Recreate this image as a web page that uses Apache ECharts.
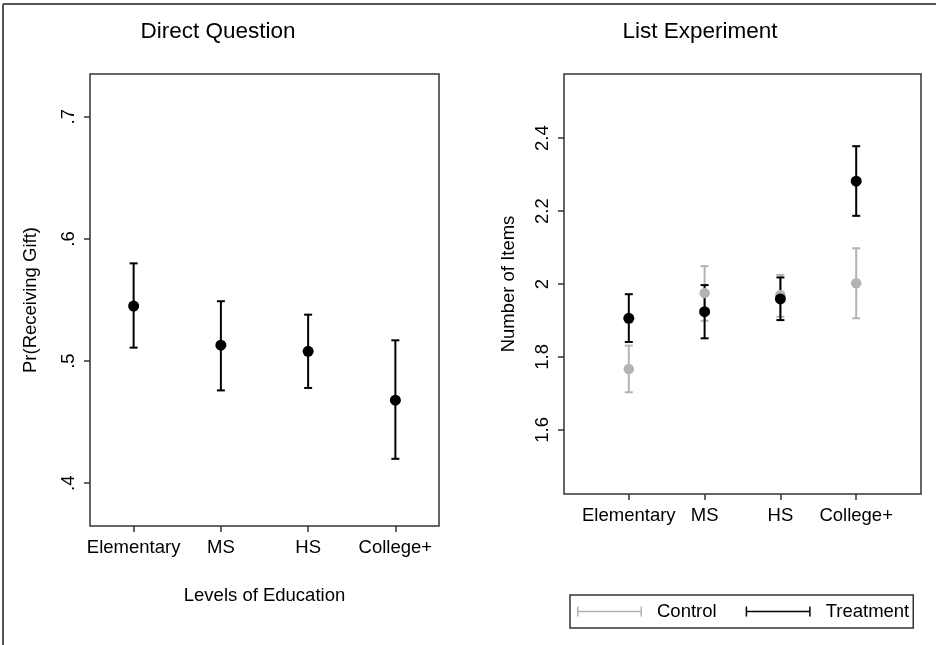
<!DOCTYPE html>
<html>
<head>
<meta charset="utf-8">
<script src="https://cdn.jsdelivr.net/npm/echarts@6/dist/echarts.min.js"></script>
<style>
html,body{margin:0;padding:0;background:#fff;}
#chart{width:936px;height:645px;}
</style>
</head>
<body>
<div id="chart"></div>
<script>
// ---- data ----
const categories = ['Elementary', 'MS', 'HS', 'College+'];

// Direct Question: Pr(Receiving Gift)
const directEst = [0.545, 0.513, 0.508, 0.468];
const directLo  = [0.511, 0.476, 0.478, 0.420];
const directHi  = [0.580, 0.549, 0.538, 0.517];

// List Experiment: Number of Items
const controlEst = [1.767, 1.975, 1.970, 2.002];
const controlLo  = [1.703, 1.899, 1.910, 1.906];
const controlHi  = [1.831, 2.049, 2.025, 2.098];
const treatEst   = [1.906, 1.924, 1.959, 2.282];
const treatLo    = [1.841, 1.851, 1.901, 2.187];
const treatHi    = [1.972, 1.997, 2.018, 2.378];

// tick labels
const leftYTickValues = [0.4, 0.5, 0.6, 0.7];
const leftYTickLabels = ['.4', '.5', '.6', '.7'];
const rightYTickValues = [1.6, 1.8, 2.0, 2.2, 2.4];
const rightYTickLabels = ['1.6', '1.8', '2', '2.2', '2.4'];
const catPositions = [1, 2, 3, 4];

// ---- build ----
const FONT = '"Liberation Sans", Arial, Helvetica, sans-serif';
const BLACK = '#000000';
const GREY = '#b3b3b3';

function barData(lo, hi) { return lo.map((v, i) => [catPositions[i], v, hi[i]]); }
function ptData(est) { return est.map((v, i) => [catPositions[i], v]); }

function errorBarRender(params, api) {
  const lo = api.coord([api.value(0), api.value(1)]);
  const hi = api.coord([api.value(0), api.value(2)]);
  const half = 4;
  const style = { stroke: api.visual('color'), lineWidth: 2 };
  return {
    type: 'group',
    children: [
      { type: 'line', shape: { x1: lo[0], y1: lo[1], x2: hi[0], y2: hi[1] }, style: style },
      { type: 'line', shape: { x1: lo[0] - half, y1: lo[1], x2: lo[0] + half, y2: lo[1] }, style: style },
      { type: 'line', shape: { x1: hi[0] - half, y1: hi[1], x2: hi[0] + half, y2: hi[1] }, style: style }
    ]
  };
}

function labelFor(values, labels) {
  return function (v) {
    for (let i = 0; i < values.length; i++) if (Math.abs(values[i] - v) < 1e-6) return labels[i];
    return '';
  };
}
function catLabel(v) { const i = catPositions.indexOf(Math.round(v)); return i >= 0 ? categories[i] : ''; }

const axisText = { color: BLACK, fontFamily: FONT, fontSize: 18.5 };

function xAxisCfg(gridIndex, min, max, name) {
  return {
    type: 'value', gridIndex: gridIndex, min: min, max: max,
    splitLine: { show: false },
    axisLine: { show: false },
    axisTick: { show: true, customValues: catPositions, length: 6, lineStyle: { color: '#333', width: 1.5 } },
    axisLabel: Object.assign({ customValues: catPositions, formatter: catLabel, margin: 12 }, axisText),
    name: name, nameLocation: 'middle', nameGap: 60, nameMoveOverlap: false,
    nameTextStyle: { color: BLACK, fontFamily: FONT, fontSize: 18.5 }
  };
}
function yAxisCfg(gridIndex, min, max, vals, labs, name, gap) {
  return {
    type: 'value', gridIndex: gridIndex, min: min, max: max,
    splitLine: { show: false },
    axisLine: { show: false },
    axisTick: { show: true, customValues: vals, length: 6, lineStyle: { color: '#333', width: 1.5 } },
    axisLabel: Object.assign({ customValues: vals, formatter: labelFor(vals, labs), rotate: 90, margin: 12 }, axisText),
    name: name, nameLocation: 'middle', nameGap: gap, nameRotate: 90, nameMoveOverlap: false,
    nameTextStyle: { color: BLACK, fontFamily: FONT, fontSize: 18.5 }
  };
}

const legendIcon = 'path://M0,4.25H65V5.75H0Z M0,0H1.5V10H0Z M63.5,0H65V10H63.5Z';

const option = {
  backgroundColor: '#ffffff',
  animation: false,
  grid: [
    { left: 90, top: 74, width: 349, height: 452, show: true, borderColor: '#333', borderWidth: 1.5, backgroundColor: 'transparent', outerBoundsMode: 'none', containLabel: false },
    { left: 564, top: 74, width: 357, height: 420, show: true, borderColor: '#333', borderWidth: 1.5, backgroundColor: 'transparent', outerBoundsMode: 'none', containLabel: false }
  ],
  xAxis: [
    xAxisCfg(0, 0.5, 4.5, 'Levels of Education'),
    xAxisCfg(1, 0.145, 4.855, '')
  ],
  yAxis: [
    yAxisCfg(0, 0.365, 0.735, leftYTickValues, leftYTickLabels, 'Pr(Receiving Gift)', 50),
    yAxisCfg(1, 1.424, 2.576, rightYTickValues, rightYTickLabels, 'Number of Items', 46)
  ],
  legend: {
    show: true,
    left: 570, top: 595,
    orient: 'horizontal',
    padding: [7, 4, 7, 7],
    itemGap: 29,
    itemWidth: 65, itemHeight: 10,
    borderColor: '#333', borderWidth: 1.5, borderRadius: 0,
    backgroundColor: '#fff',
    textStyle: { color: BLACK, fontFamily: FONT, fontSize: 18.5, padding: [0, 0, 0, 10] },
    data: [
      { name: 'Control', icon: legendIcon, itemStyle: { color: GREY, borderWidth: 0 } },
      { name: 'Treatment', icon: legendIcon, itemStyle: { color: BLACK, borderWidth: 0 } }
    ],
    selectedMode: false
  },
  graphic: [
    { type: 'line', shape: { x1: 3, y1: 4, x2: 936, y2: 4 }, style: { stroke: '#555', lineWidth: 2 }, silent: true },
    { type: 'line', shape: { x1: 3, y1: 4, x2: 3, y2: 645 }, style: { stroke: '#555', lineWidth: 2 }, silent: true },
    { type: 'text', x: 218, y: 31.5, style: { text: 'Direct Question', fill: BLACK, font: '22.5px ' + FONT, textAlign: 'center', textVerticalAlign: 'middle' }, silent: true },
    { type: 'text', x: 700, y: 31.5, style: { text: 'List Experiment', fill: BLACK, font: '22.5px ' + FONT, textAlign: 'center', textVerticalAlign: 'middle' }, silent: true }
  ],
  series: [
    {
      name: 'Direct', type: 'custom', xAxisIndex: 0, yAxisIndex: 0,
      itemStyle: { color: BLACK }, renderItem: errorBarRender,
      encode: { x: 0, y: [1, 2] }, data: barData(directLo, directHi)
    },
    {
      name: 'Direct estimate', type: 'scatter', xAxisIndex: 0, yAxisIndex: 0,
      symbol: 'circle', symbolSize: 11, itemStyle: { color: BLACK, opacity: 1 },
      data: ptData(directEst)
    },
    {
      name: 'Control', type: 'custom', xAxisIndex: 1, yAxisIndex: 1,
      itemStyle: { color: GREY }, renderItem: errorBarRender,
      encode: { x: 0, y: [1, 2] }, data: barData(controlLo, controlHi)
    },
    {
      name: 'Control estimate', type: 'scatter', xAxisIndex: 1, yAxisIndex: 1,
      symbol: 'circle', symbolSize: 10.5, itemStyle: { color: GREY, opacity: 1 },
      data: ptData(controlEst)
    },
    {
      name: 'Treatment', type: 'custom', xAxisIndex: 1, yAxisIndex: 1,
      itemStyle: { color: BLACK }, renderItem: errorBarRender,
      encode: { x: 0, y: [1, 2] }, data: barData(treatLo, treatHi)
    },
    {
      name: 'Treatment estimate', type: 'scatter', xAxisIndex: 1, yAxisIndex: 1,
      symbol: 'circle', symbolSize: 11, itemStyle: { color: BLACK, opacity: 1 },
      data: ptData(treatEst)
    }
  ]
};

const chart = echarts.init(document.getElementById('chart'), null, { renderer: 'canvas' });
chart.setOption(option);
</script>
</body>
</html>
